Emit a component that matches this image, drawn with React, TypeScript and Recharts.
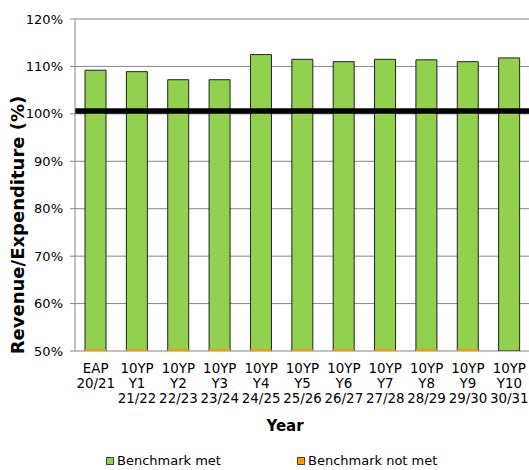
import React from "react";
import {
  BarChart,
  Bar,
  XAxis,
  YAxis,
  CartesianGrid,
  ReferenceLine,
  Legend,
} from "recharts";

const categories = [
  "EAP\n20/21",
  "10YP\nY1\n21/22",
  "10YP\nY2\n22/23",
  "10YP\nY3\n23/24",
  "10YP\nY4\n24/25",
  "10YP\nY5\n25/26",
  "10YP\nY6\n26/27",
  "10YP\nY7\n27/28",
  "10YP\nY8\n28/29",
  "10YP\nY9\n29/30",
  "10YP\nY10\n30/31",
];
const benchmarkMet = [109.2, 108.9, 107.2, 107.2, 112.5, 111.5, 111.0, 111.5, 111.4, 111.0, 111.8];
// thin orange strips sitting on the 50% base
const benchmarkNotMet = [50.4, 50.4, 50.4, 50.4, 50.4, 50.4, 50.4, 50.4, 50.4, 50.4, null];
const benchmarkLine = 100.6;
const yTicks = [50, 60, 70, 80, 90, 100, 110, 120];
const boundaryTicks = [0, 1, 2, 3, 4, 5, 6, 7, 8, 9, 10, 11];

const data = categories.map((name, i) => ({
  name,
  met: benchmarkMet[i],
  notMet: benchmarkNotMet[i],
}));

const FONT = "'DejaVu Sans', Verdana, sans-serif";
const GREEN = "#92D050";
const ORANGE = "#FF9900";
const GRAY = "#868686";

function XTick({ x, y, payload }: any) {
  const lines = String(payload.value).split("\n");
  return (
    <text x={x} y={y} textAnchor="middle" fontSize={13.4} fill="#000" fontFamily={FONT}>
      {lines.map((l, i) => (
        <tspan key={i} x={x} dy={i === 0 ? 0 : 15}>
          {l}
        </tspan>
      ))}
    </text>
  );
}

function LegendBox() {
  const item = (left: number, color: string, text: string) => (
    <div style={{ position: "absolute", left, top: 0, display: "flex", alignItems: "center" }}>
      <span
        style={{
          display: "inline-block",
          width: 6,
          height: 6,
          background: color,
          border: "1px solid #444",
          marginRight: 3,
        }}
      />
      <span style={{ fontSize: 13, color: "#000", fontFamily: FONT }}>{text}</span>
    </div>
  );
  return (
    <div style={{ position: "relative", height: 18, width: 529 }}>
      {item(106, GREEN, "Benchmark met")}
      {item(297, ORANGE, "Benchmark not met")}
    </div>
  );
}

export default function App() {
  return (
    <div
      style={{
        position: "absolute",
        left: 0,
        top: 0,
        width: 529,
        height: 470,
        overflow: "hidden",
        background: "#fff",
        fontFamily: FONT,
      }}
    >
      <BarChart
        width={540}
        height={470}
        data={data}
        margin={{ top: 19, right: 10, bottom: 0, left: 0 }}
        barSize={21}
      >
        <CartesianGrid vertical={false} stroke={GRAY} xAxisId="tk" />
        <XAxis
          xAxisId="tk"
          type="number"
          domain={[0, 11]}
          ticks={boundaryTicks}
          height={1}
          tick={false}
          tickSize={5}
          stroke={GRAY}
          allowDataOverflow
        />
        <XAxis
          xAxisId="main"
          dataKey="name"
          height={118}
          axisLine={false}
          tickLine={false}
          tickSize={0}
          tickMargin={22}
          interval={0}
          tick={<XTick />}
          label={{
            value: "Year",
            content: () => (
              <text x={285} y={431} textAnchor="middle" fontSize={15} fontWeight="bold" fill="#000" fontFamily={FONT}>
                Year
              </text>
            ),
          }}
        />
        <XAxis xAxisId="or" dataKey="name" hide />
        <YAxis
          domain={[50, 120]}
          ticks={yTicks}
          width={75}
          allowDataOverflow
          stroke={GRAY}
          tickSize={5}
          tickMargin={7}
          tick={{ fill: "#000", fontSize: 13, fontFamily: FONT }}
          tickFormatter={(v) => `${v}%`}
          label={{
            value: "Revenue/Expenditure (%)",
            content: () => (
              <text
                x={24}
                y={225}
                transform="rotate(-90 24 225)"
                textAnchor="middle"
                fontSize={18}
                fontWeight="bold"
                fill="#000"
                fontFamily={FONT}
              >
                Revenue/Expenditure (%)
              </text>
            ),
          }}
        />
        <Bar
          xAxisId="main"
          dataKey="met"
          name="Benchmark met"
          fill={GREEN}
          stroke="#222"
          strokeWidth={1}
          isAnimationActive={false}
        />
        <Bar
          xAxisId="or"
          dataKey="notMet"
          name="Benchmark not met"
          fill={ORANGE}
          isAnimationActive={false}
        />
        <ReferenceLine xAxisId="main" y={benchmarkLine} stroke="#000" strokeWidth={5.5} />
        <Legend
          layout="horizontal"
          verticalAlign="middle"
          align="center"
          wrapperStyle={{ top: 453, left: 0, width: 529 }}
          content={<LegendBox />}
        />
      </BarChart>
    </div>
  );
}
